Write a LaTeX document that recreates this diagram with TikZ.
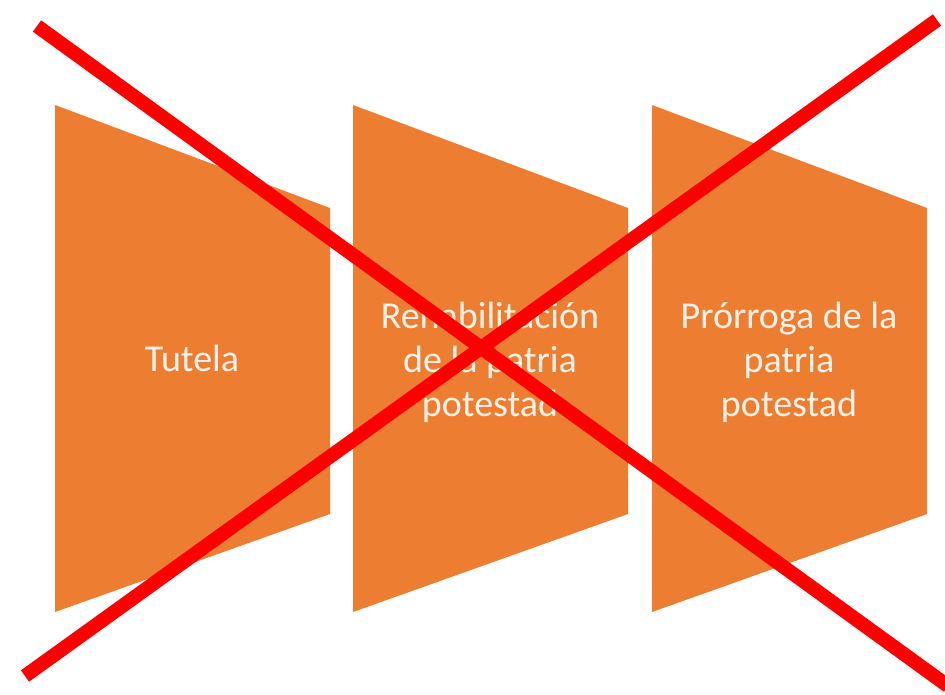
\documentclass[tikz,border=0pt]{standalone}
\usepackage{fontspec}
\setmainfont{Carlito}
\definecolor{boxorange}{HTML}{ED7D31}
\definecolor{crossred}{HTML}{FF0000}
\begin{document}
\begin{tikzpicture}[x=1pt, y=-1pt, box/.style = {fill=boxorange}, label/.style = {text=white!90!boxorange, align=center, font=\fontsize{38}{44}\selectfont}, cross/.style = {draw=crossred, line width=14pt}]
    \useasboundingbox (0,0) rectangle (945,694);
    \fill[box] (55,105) -- (330,208) -- (330,514) -- (55,612) -- cycle;
    \fill[box] (353,105) -- (628,208) -- (628,514) -- (353,612) -- cycle;
    \fill[box] (652,105) -- (927,208) -- (927,514) -- (652,612) -- cycle;
    \node[label] (1) at (192,358) {Tutela};
    \node[label] (2) at (490,362) {Rehabilitación\\de la patria\\potestad};
    \node[label] (3) at (789,362) {Prórroga  de la\\patria\\potestad};
    \coordinate (a) at (37,26);
    \coordinate (b) at (948,686);
    \coordinate (c) at (937,20);
    \coordinate (d) at (25,676);
    \draw[cross] (a)--(b);
    \draw[cross] (c)--(d);
\end{tikzpicture}
\end{document}
